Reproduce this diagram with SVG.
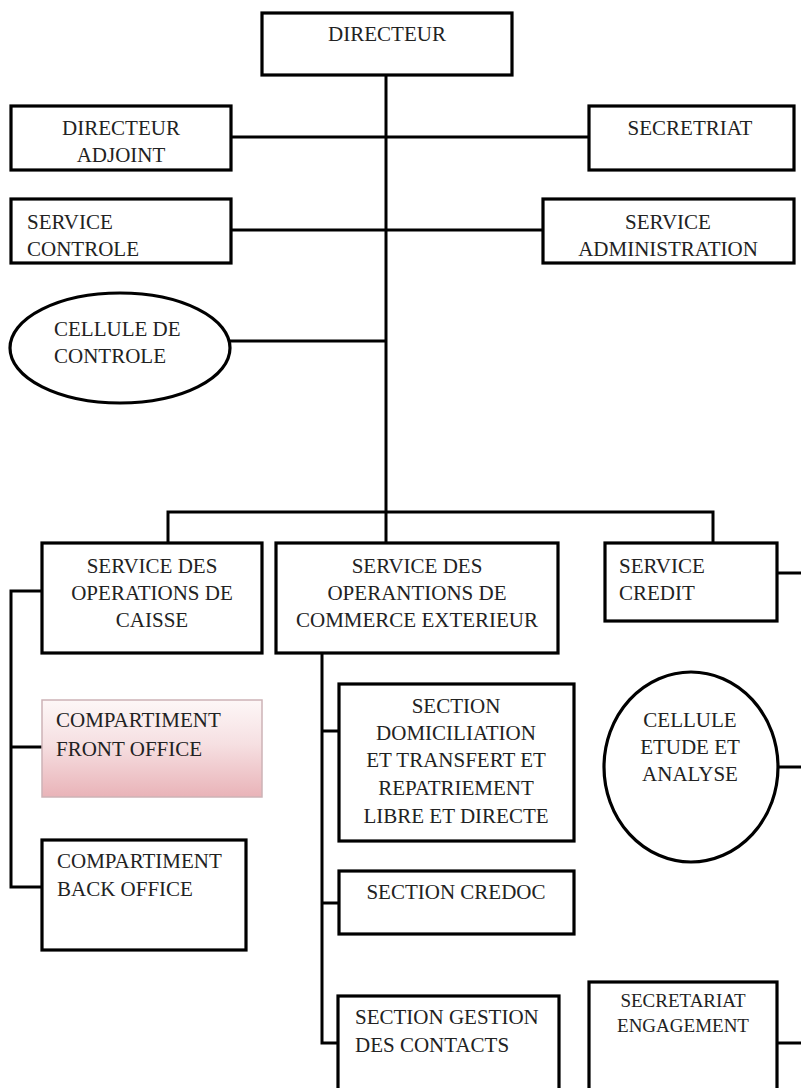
<svg xmlns="http://www.w3.org/2000/svg" width="801" height="1088" viewBox="0 0 801 1088">
<defs>
<linearGradient id="pink" x1="0" y1="0" x2="0" y2="1">
<stop offset="0" stop-color="#fdf7f7"/>
<stop offset="0.45" stop-color="#f6e0e2"/>
<stop offset="1" stop-color="#e9b3b8"/>
</linearGradient>
<style>
.box{fill:#fff;stroke:#000;stroke-width:3.2}
.pk{fill:url(#pink);stroke:#cdb3b6;stroke-width:1.5}
.ln{fill:none;stroke:#000;stroke-width:3}
text{font-family:"Liberation Serif","Times New Roman",serif;font-size:21px;fill:#222}
.c{text-anchor:middle}
.s{font-size:19px}
</style>
</defs>
<rect width="801" height="1088" fill="#fff"/>
<g id="connectors">
<path class="ln" d="M386 75V543"/>
<path class="ln" d="M231 137H589"/>
<path class="ln" d="M231 230H543"/>
<path class="ln" d="M230 341H386"/>
<path class="ln" d="M168 543V512H713V543"/>
<path class="ln" d="M42 591H11V887H42M11 747H42"/>
<path class="ln" d="M322 653V1043H338M322 731H339M322 903H339"/>
<path class="ln" d="M777 573H801"/>
<path class="ln" d="M778 767H801"/>
<path class="ln" d="M777 1043H801"/>
</g>
<g id="directeur"><rect class="box" x="262" y="13" width="250" height="62"/><text class="c" x="387" y="41">DIRECTEUR</text></g>
<g id="directeur-adjoint"><rect class="box" x="11" y="106" width="220" height="64"/><text class="c" x="121" y="135">DIRECTEUR</text><text class="c" x="121" y="162">ADJOINT</text></g>
<g id="secretriat"><rect class="box" x="589" y="106" width="205" height="64"/><text class="c" x="690" y="135">SECRETRIAT</text></g>
<g id="service-controle"><rect class="box" x="11" y="199" width="220" height="64"/><text x="27" y="229">SERVICE</text><text x="27" y="256">CONTROLE</text></g>
<g id="service-administration"><rect class="box" x="543" y="199" width="251" height="64"/><text class="c" x="668" y="229">SERVICE</text><text class="c" x="668" y="256">ADMINISTRATION</text></g>
<g id="cellule-controle"><ellipse class="box" cx="120" cy="348" rx="110" ry="55"/><text x="54" y="336">CELLULE DE</text><text x="54" y="363">CONTROLE</text></g>
<g id="service-caisse"><rect class="box" x="42" y="543" width="220" height="110"/><text class="c" x="152" y="573">SERVICE DES</text><text class="c" x="152" y="600">OPERATIONS DE</text><text class="c" x="152" y="627">CAISSE</text></g>
<g id="service-commerce"><rect class="box" x="276" y="543" width="282" height="110"/><text class="c" x="417" y="573">SERVICE DES</text><text class="c" x="417" y="600">OPERANTIONS DE</text><text class="c" x="417" y="627">COMMERCE EXTERIEUR</text></g>
<g id="service-credit"><rect class="box" x="605" y="543" width="172" height="78"/><text x="619" y="573">SERVICE</text><text x="619" y="600">CREDIT</text></g>
<g id="front-office"><rect class="pk" x="42" y="700" width="220" height="97"/><text x="56" y="727" fill="#333">COMPARTIMENT</text><text x="56" y="756" fill="#333">FRONT OFFICE</text></g>
<g id="back-office"><rect class="box" x="42" y="840" width="204" height="110"/><text x="57" y="868">COMPARTIMENT</text><text x="57" y="896">BACK OFFICE</text></g>
<g id="section-domiciliation"><rect class="box" x="339" y="684" width="235" height="157"/><text class="c" x="456" y="713">SECTION</text><text class="c" x="456" y="740">DOMICILIATION</text><text class="c" x="456" y="767">ET TRANSFERT ET</text><text class="c" x="456" y="795">REPATRIEMENT</text><text class="c" x="456" y="823">LIBRE ET DIRECTE</text></g>
<g id="section-credoc"><rect class="box" x="339" y="871" width="235" height="63"/><text class="c" x="456" y="899">SECTION CREDOC</text></g>
<g id="section-gestion"><rect class="box" x="338" y="996" width="221" height="100"/><text x="355" y="1024">SECTION GESTION</text><text x="355" y="1052">DES CONTACTS</text></g>
<g id="cellule-etude"><ellipse class="box" cx="691" cy="767" rx="87" ry="95"/><text class="c" x="690" y="727">CELLULE</text><text class="c" x="690" y="754">ETUDE ET</text><text class="c" x="690" y="781">ANALYSE</text></g>
<g id="secretariat-engagement"><rect class="box" x="589" y="982" width="188" height="110"/><text class="c s" x="683" y="1007">SECRETARIAT</text><text class="c s" x="683" y="1032">ENGAGEMENT</text></g>
</svg>
